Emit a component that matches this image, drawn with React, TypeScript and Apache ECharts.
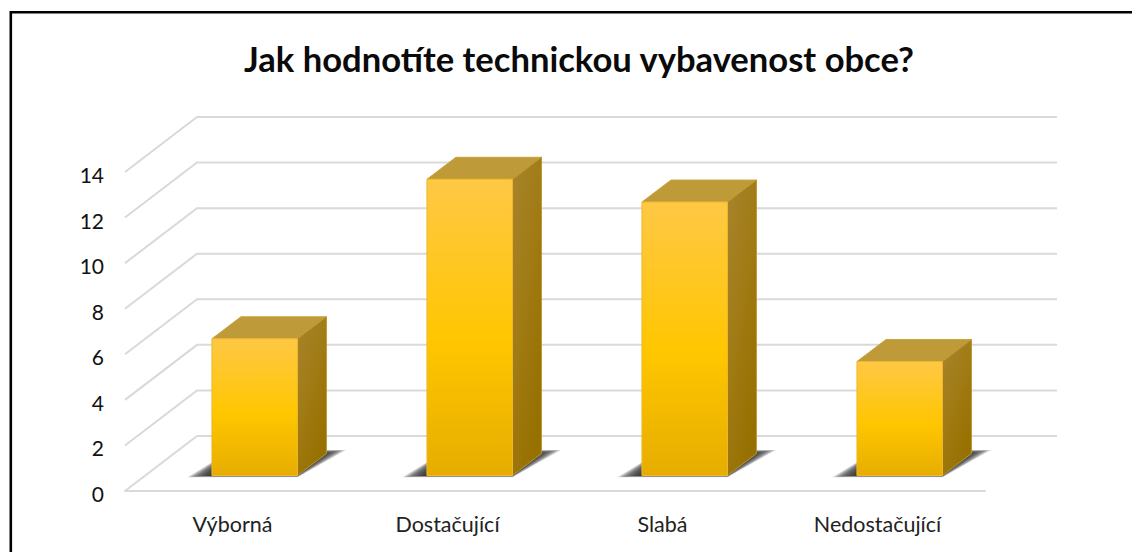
import React, { useEffect, useRef } from "react";
import * as echarts from "echarts";

const titleText = "Jak hodnotíte technickou vybavenost obce?";
const categories = ["Výborná", "Dostačující", "Slabá", "Nedostačující"];
const values = [6, 13, 12, 5];
const gridTicks = [0, 2, 4, 6, 8, 10, 12, 14];

const FONT = "Lato";
const WALL_DX = 72;
const WALL_DY = 55;
const BAR_W = 85.5;
const BAR_SHIFT_X = 22.2;
const BAR_SHIFT_Y = 15.5;
const DEPTH_X = 29;
const DEPTH_Y = 22;
const SHADOW_LAYERS = [8, 6, 4, 2, 0, -2, -4, -6, -8];

const vGrad = (stops: [number, string][], x2 = 0, y2 = 1) => ({
  type: "linear", x: 0, y: 0, x2, y2,
  colorStops: stops.map(([offset, color]) => ({ offset, color })),
});

export default function App() {
  const ref = useRef<HTMLDivElement>(null);
  useEffect(() => {
    document.body.style.margin = "0";
    document.body.style.background = "#fff";
    const chart = echarts.init(ref.current!, undefined, { renderer: "svg" });
    chart.setOption({
      animation: false,
      backgroundColor: "#ffffff",
      title: {
        text: titleText,
        left: 574,
        top: 36,
        textAlign: "center",
        textStyle: { fontFamily: FONT, fontWeight: "bold", fontSize: 34.6, color: "#0a0a0a" },
      },
      grid: { left: 125, top: 172, width: 860, height: 319 },
      xAxis: {
        type: "category",
        data: categories,
        axisLine: { show: true, lineStyle: { color: "#d9d9d9", width: 2 } },
        axisTick: { show: false },
        axisLabel: { fontFamily: FONT, fontSize: 21.5, color: "#222", margin: 22 },
      },
      yAxis: {
        type: "value",
        min: 0,
        max: 14,
        interval: 2,
        axisLine: { show: false },
        axisTick: { show: false },
        splitLine: { show: false },
        axisLabel: {
          margin: 21,
          formatter: "{a|{value}}",
          rich: { a: { fontFamily: FONT, fontSize: 21, color: "#111", padding: [5, 0, 0, 0] } },
        },
      },
      graphic: [
        { type: "rect", shape: { x: 10, y: 11, width: 1122, height: 2.6 }, style: { fill: "#000" } },
        { type: "rect", shape: { x: 9.5, y: 11, width: 2.6, height: 541 }, style: { fill: "#000" } },
      ],
      series: [
        {
          type: "custom",
          coordinateSystem: "cartesian2d",
          clip: false,
          z: 1,
          silent: true,
          data: gridTicks.map((t) => [0, t]),
          renderItem: (params: any, api: any) => {
            const v = api.value(1);
            const y = api.coord([0, v])[1];
            const cs = params.coordSys;
            const left = cs.x;
            const right = cs.x + cs.width;
            return {
              type: "polyline",
              shape: {
                points: [
                  [left, y],
                  [left + WALL_DX, y - WALL_DY],
                  [right + WALL_DX, y - WALL_DY],
                ],
              },
              style: { stroke: "#d9d9d9", lineWidth: 2, fill: null },
            };
          },
        },
        {
          type: "custom",
          coordinateSystem: "cartesian2d",
          clip: false,
          z: 2,
          silent: true,
          data: values.map((v, i) => [i, v]),
          renderItem: (_params: any, api: any) => {
            const c = api.coord([api.value(0), api.value(1)]);
            const b = api.coord([api.value(0), 0]);
            const x0 = c[0] + BAR_SHIFT_X - BAR_W / 2;
            const x1 = x0 + BAR_W;
            const yTop = c[1] - BAR_SHIFT_Y;
            const yBot = b[1] - BAR_SHIFT_Y;
            const dx = DEPTH_X;
            const dy = DEPTH_Y;
            const shadows = SHADOW_LAYERS.map((g) => ({
              type: "polygon",
              shape: {
                points: [
                  [x0 - 14 - g * 1.3, yBot + 0.5 + Math.max(g, 0) / 6],
                  [x1, yBot + 0.5 + Math.max(g, 0) / 6],
                  [x1 + 38 + g * 1.3, yBot - dy - 2 - g / 5],
                  [x0 + 20, yBot - dy - 2 - g / 5],
                ],
              },
              style: { fill: "rgba(35,35,35,0.2)" },
            }));
            return {
              type: "group",
              children: [
                ...shadows,
                {
                  type: "polygon",
                  shape: { points: [[x0, yTop], [x0 + dx, yTop - dy], [x1 + dx, yTop - dy], [x1, yTop]] },
                  style: { fill: "#BF9A38", stroke: "#C9A33E", lineWidth: 1 },
                },
                {
                  type: "polygon",
                  shape: { points: [[x1, yTop], [x1 + dx, yTop - dy], [x1 + dx, yBot - dy], [x1, yBot]] },
                  style: {
                    fill: vGrad([[0, "#A8842E"], [0.55, "#A07A12"], [1, "#967000"]], 0.6, 1),
                    stroke: "#BD9630",
                    lineWidth: 1,
                  },
                },
                {
                  type: "rect",
                  shape: { x: x0, y: yTop, width: BAR_W, height: yBot - yTop },
                  style: {
                    fill: vGrad([[0, "#FFC845"], [0.55, "#FFC600"], [1, "#E6AD00"]]),
                    stroke: "#EDB92A",
                    lineWidth: 1,
                  },
                },
              ],
            };
          },
        },
      ],
    });
    return () => chart.dispose();
  }, []);
  return <div ref={ref} style={{ width: 1132, height: 552 }} />;
}
